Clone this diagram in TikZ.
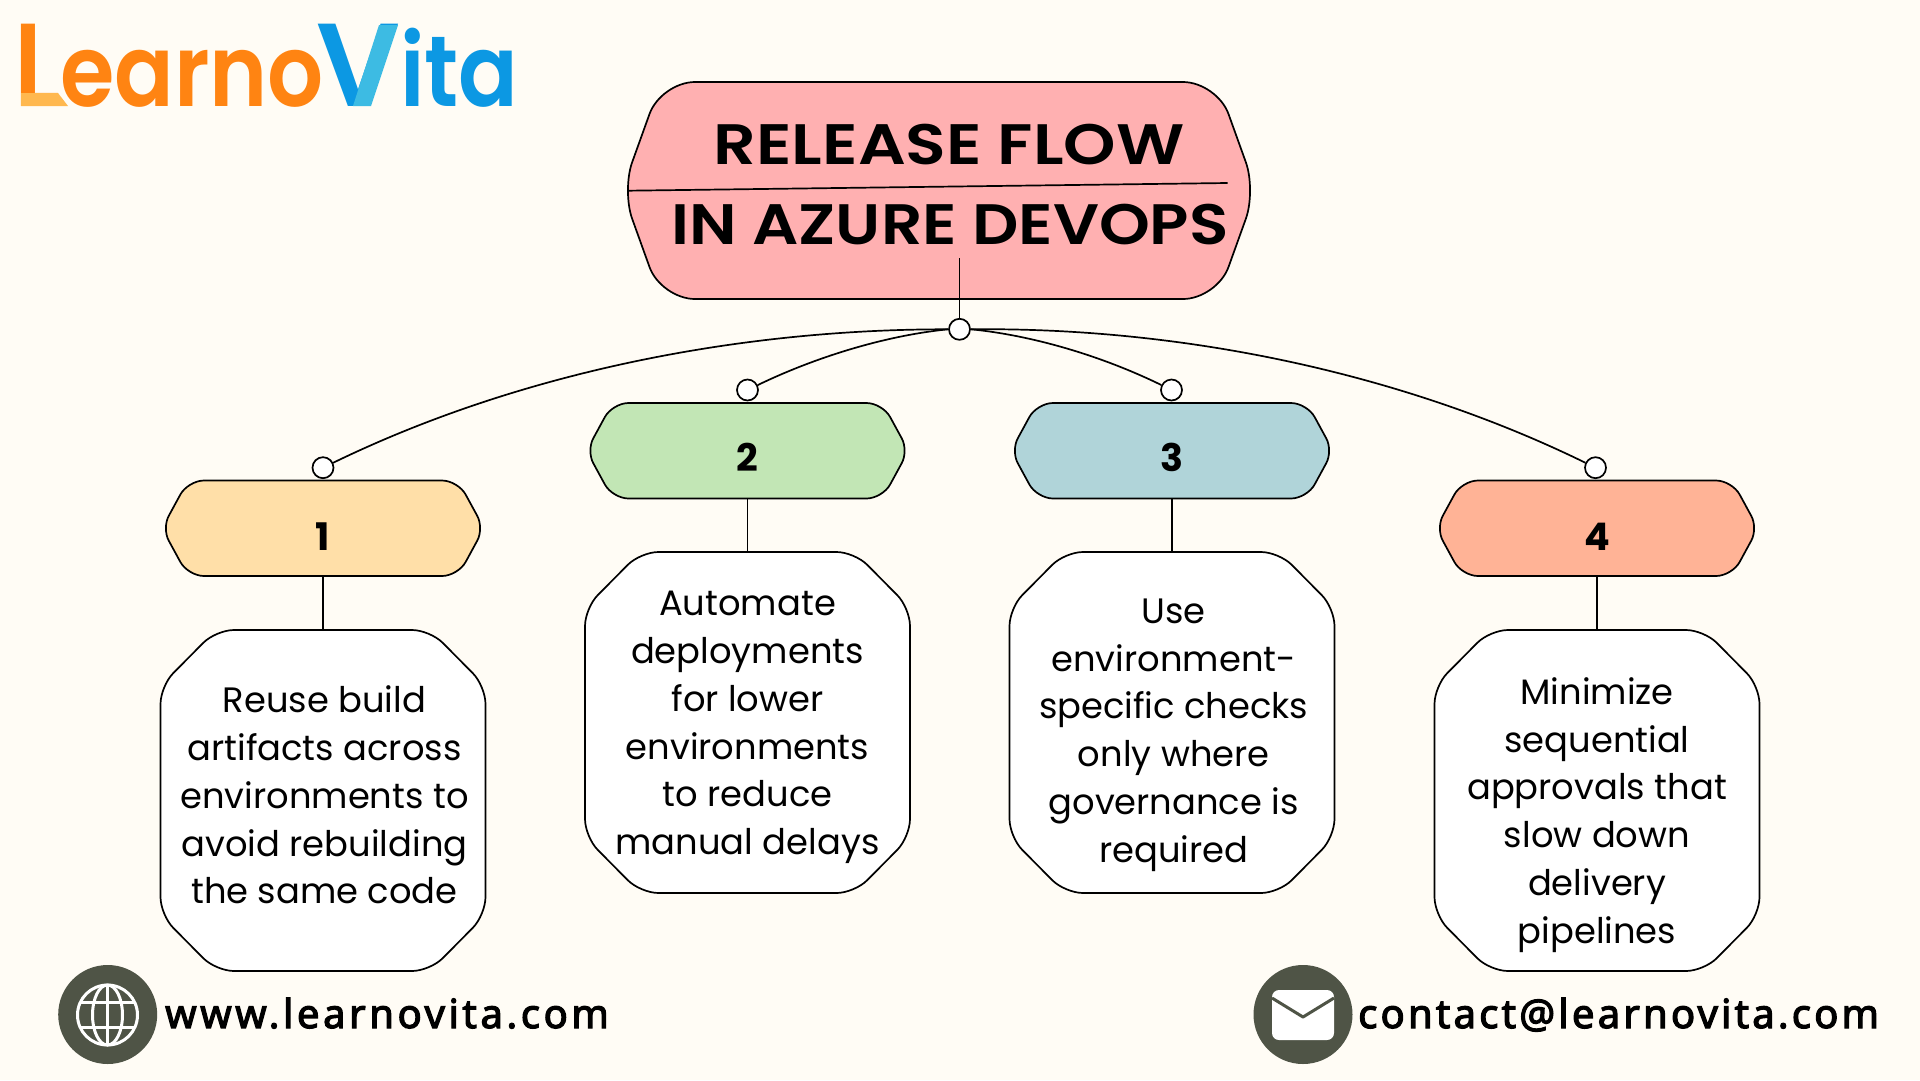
\documentclass[tikz,border=0pt]{standalone}
\usepackage{fontspec}
\setmainfont{Poppins}
\newfontfamily\titlefont{Poppins SemiBold}
\newfontfamily\bodyfont{Poppins}
\newfontfamily\numfont{Poppins Bold}
\newfontfamily\footwfont[FakeBold=3,LetterSpace=9]{Noto Sans}
\newfontfamily\footmfont[FakeBold=3,LetterSpace=8]{Noto Sans}
\newfontfamily\logofont{Poppins SemiBold}
\newcommand{\capsz}{\fontsize{118}{120}\selectfont}
\newcommand{\lowsz}{\fontsize{100}{120}\selectfont}
\definecolor{bg}{HTML}{FFFCF5}
\definecolor{titlefill}{HTML}{FFB0B1}
\definecolor{hA}{HTML}{FFDFA8}
\definecolor{hB}{HTML}{C2E6B5}
\definecolor{hC}{HTML}{B0D4D9}
\definecolor{hD}{HTML}{FFB396}
\definecolor{dark}{HTML}{4F5446}
\definecolor{logoO}{HTML}{FF8412}
\definecolor{logoL}{HTML}{FFB84F}
\definecolor{logoB}{HTML}{0C98E3}
\definecolor{logoC}{HTML}{3DBBE3}
\tikzset{
  x=1pt,y=-1pt,
  outline/.style={draw=black,line width=1.7pt},
  link/.style={draw=black,line width=1.7pt},
  dot/.style={circle,draw=black,fill=white,line width=1.7pt,minimum size=21pt,inner sep=0pt},
  hollow/.style={inner sep=0pt,outer sep=0pt},
  cardtext/.style={align=center,inner sep=0pt,font=\bodyfont\fontsize{35.3}{47.8}\selectfont},
  numtext/.style={inner sep=0pt,font=\numfont\fontsize{38}{40}\selectfont},
  titletext/.style={inner sep=0pt,anchor=base,font=\titlefont\fontsize{57}{60}\selectfont},
  foottext/.style={inner sep=0pt,anchor=base west,font=\fontsize{40}{44}\selectfont},
  logotext/.style={inner sep=0pt,anchor=base west,font=\logofont},
}
% header hexagon: name, cx, top, bottom, fill
\newcommand{\headbox}[5]{%
  \pgfmathsetmacro{\mymid}{(#3+#4)/2}%
  \filldraw[outline,fill=#5] [rounded corners=16pt]
    (#2-135,#3) -- (#2+135,#3) [rounded corners=14pt] -- (#2+161,\mymid) [rounded corners=16pt] -- (#2+135,#4) -- (#2-135,#4) [rounded corners=14pt] -- (#2-161,\mymid) [rounded corners=16pt] -- cycle;
  \node[hollow,minimum width=316pt,minimum height={#4-#3}] (#1) at (#2,\mymid) {};
}
% card octagon: name, cx, top, bottom
\newcommand{\cardbox}[4]{%
  \pgfmathsetmacro{\mymid}{(#3+#4)/2}%
  \filldraw[outline,fill=white,rounded corners=18pt]
    (#2-107,#3) -- (#2+107,#3) -- (#2+162.5,#3+56) -- (#2+162.5,#4-56) -- (#2+107,#4) -- (#2-107,#4) -- (#2-162.5,#4-56) -- (#2-162.5,#3+56) -- cycle;
  \node[hollow,minimum width=325pt,minimum height={#4-#3}] (#1) at (#2,\mymid) {};
}
\begin{document}
\begin{tikzpicture}
\useasboundingbox (0,0) rectangle (1920,1080);
\fill[bg] (0,0) rectangle (1920,1080);

% logo
\node[logotext,text=logoO] (logoA) at (14,106) {\scalebox{.85}[1]{\capsz L}\scalebox{.88}[1]{\lowsz earno}};
\node[logotext,text=logoB] (logoV) at (316,106) {\capsz V\scalebox{.88}[1]{\lowsz ita}};
\fill[logoL] (21,93) -- (58,93) -- (68,106) -- (21,106) -- cycle;
\fill[logoC] (353,106) -- (379,25) -- (398,25) -- (371,106) -- cycle;

% title shape
\filldraw[outline,fill=titlefill,rounded corners=34pt]
  (661,82) -- (1217,82) [rounded corners=30pt] -- (1256,190.5) [rounded corners=34pt] -- (1217,299) -- (661,299) [rounded corners=30pt] -- (622,190.5) [rounded corners=34pt] -- cycle;
\coordinate (divL) at (628,190.7);
\coordinate (divR) at (1227.5,183);
\draw[link] (divL) -- (divR);
\node[titletext,xscale=1.17] (titleA) at (949,164) {RELEASE FLOW};
\node[titletext,xscale=1.135] (titleB) at (950,244) {IN AZURE DEVOPS};
\coordinate (titleStem) at (959.5,258);

% headers and cards
\headbox{headA}{323}{480.5}{576}{hA}
\headbox{headB}{747.5}{403}{498.5}{hB}
\headbox{headC}{1172}{403}{498.5}{hC}
\headbox{headD}{1597}{480.5}{576}{hD}
\cardbox{cardA}{323}{630}{971}
\cardbox{cardB}{747.5}{552}{893}
\cardbox{cardC}{1172}{552}{893}
\cardbox{cardD}{1597}{630}{971}

\node[numtext] (numA) at (323,537) {1};
\node[numtext] (numB) at (747.5,457) {2};
\node[numtext] (numC) at (1172,457) {3};
\node[numtext] (numD) at (1597,537) {4};

\node[cardtext] (txtA) at (324.5,795) {Reuse build\\artifacts across\\environments to\\avoid rebuilding\\the same code};
\node[cardtext] (txtB) at (747.5,727.5) {Automate\\deployments\\for lower\\environments\\to reduce\\manual delays};
\node[cardtext] (txtC) at (1173.7,735) {Use\\environment-\\specific checks\\only where\\governance is\\required};
\node[cardtext] (txtD) at (1597,815) {Minimize\\sequential\\approvals that\\slow down\\delivery\\pipelines};

% hub and dots
\node[dot] (hub) at (959.5,329.3) {};
\node[dot] (dotA) at (323,467.7) {};
\node[dot] (dotB) at (747.5,390) {};
\node[dot] (dotC) at (1171.5,390) {};
\node[dot] (dotD) at (1595.5,467.7) {};

\draw[link] (titleStem) -- (hub);
\draw[link] (headA) -- (cardA);
\draw[link] (headB) -- (cardB);
\draw[link] (headC) -- (cardC);
\draw[link] (headD) -- (cardD);
\draw[link] (hub.west) .. controls (740,329) and (520,372) .. (dotA);
\draw[link] (hub.west) .. controls (890,335) and (820,355) .. (dotB);
\draw[link] (hub.east) .. controls (1030,335) and (1100,355) .. (dotC);
\draw[link] (hub.east) .. controls (1180,327) and (1400,372) .. (dotD);

% footer
\fill[dark] (107.7,1014.5) circle [radius=49.5];
\begin{scope}[draw=white,line width=3pt]
\draw (107.5,1015) circle [radius=30];
\draw (107.5,1015) ellipse [x radius=15,y radius=30];
\draw (107.5,985) -- (107.5,1045);
\draw (80,1002) -- (135,1002);
\draw (80,1027) -- (135,1027);
\end{scope}
\node[foottext] (web) at (165,1028) {\footwfont www.learnovita.com};
\fill[dark] (1303,1014.5) circle [radius=49.5];
\fill[white,rounded corners=7pt] (1272,990) rectangle (1334,1040);
\draw[dark,line width=3pt,line join=round] (1272,998) -- (1303,1017) -- (1334,998);
\node[foottext] (mail) at (1358,1028) {\footmfont contact@learnovita.com};
\end{tikzpicture}
\end{document}
